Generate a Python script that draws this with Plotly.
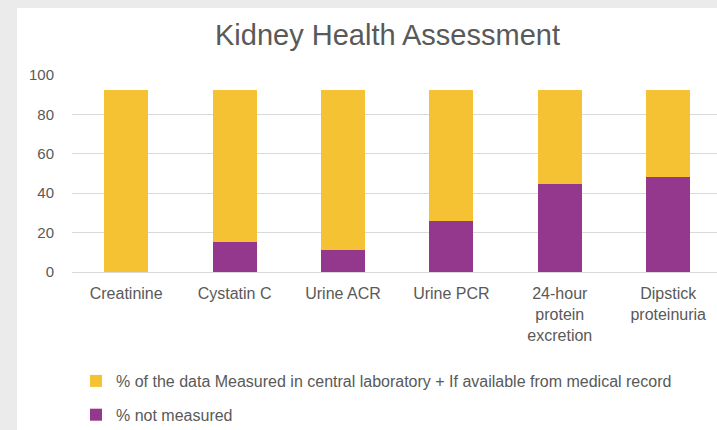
import plotly.graph_objects as go

categories = ["Creatinine", "Cystatin C", "Urine ACR", "Urine PCR",
              "24-hour<br>protein<br>excretion", "Dipstick<br>proteinuria"]
not_measured = [0, 15, 11, 26, 44.5, 48]
measured = [92.5, 77.5, 81.5, 66.5, 48, 44.5]
y_ticks = [0, 20, 40, 60, 80, 100]

name_measured = "% of the data Measured in central laboratory + If available from medical record"
name_not = "% not measured"

YELLOW = "#F4C232"
PURPLE = "#93388C"
TXT = "#595959"
FONT = "Liberation Sans, Arial, sans-serif"

W, H = 717, 430
ML, MR, MT, MB = 72, 0, 75, 158
pw = W - ML - MR
ph = H - MT - MB

def px_x(px):
    return (px - ML) / pw

def px_y(py):
    return (H - MB - py) / ph

fig = go.Figure()
fig.add_trace(go.Bar(x=categories, y=not_measured, name=name_not,
                     marker=dict(color=PURPLE, line=dict(width=0)),
                     width=0.406, legendgroup="b", legendrank=2))
fig.add_trace(go.Bar(x=categories, y=measured, name=name_measured,
                     marker=dict(color=YELLOW, line=dict(width=0)),
                     width=0.406, legendgroup="a", legendrank=1))

fig.add_shape(type="rect", xref="paper", yref="paper",
              x0=px_x(17), x1=px_x(W + 5), y0=px_y(8), y1=px_y(H + 5),
              fillcolor="white", line=dict(width=0), layer="below")

fig.update_layout(
    width=W, height=H,
    margin=dict(l=ML, r=MR, t=MT, b=MB),
    paper_bgcolor="#EBEBEB",
    plot_bgcolor="white",
    barmode="stack",
    font=dict(family=FONT, color=TXT, size=15),
    title=dict(text="Kidney Health Assessment", x=387.5 / W, xanchor="center",
               xref="container", yref="container", y=1 - 35 / H, yanchor="middle",
               font=dict(size=29, color=TXT, family=FONT)),
    xaxis=dict(range=[-0.5, -0.5 + pw / 108.4], showgrid=False, showline=False,
               zeroline=False, tickfont=dict(size=16, color=TXT),
               ticklabelstandoff=10),
    yaxis=dict(range=[0, 100], tickvals=y_ticks, showgrid=True, gridcolor="#D9D9D9",
               gridwidth=1.3, zeroline=True, zerolinecolor="#D9D9D9", zerolinewidth=1.3,
               showline=False, tickfont=dict(size=15, color=TXT), ticklabelstandoff=17),
    showlegend=True,
    legend=dict(orientation="v", x=px_x(76), xanchor="left", xref="paper",
                y=1 - 364 / H, yref="container", yanchor="top",
                traceorder="grouped", tracegroupgap=10,
                font=dict(size=16, color=TXT), bgcolor="rgba(0,0,0,0)"),
)

fig.write_html("out.html", config={"displayModeBar": False},
               post_script="document.body.style.margin='0';document.body.style.overflow='hidden';")
